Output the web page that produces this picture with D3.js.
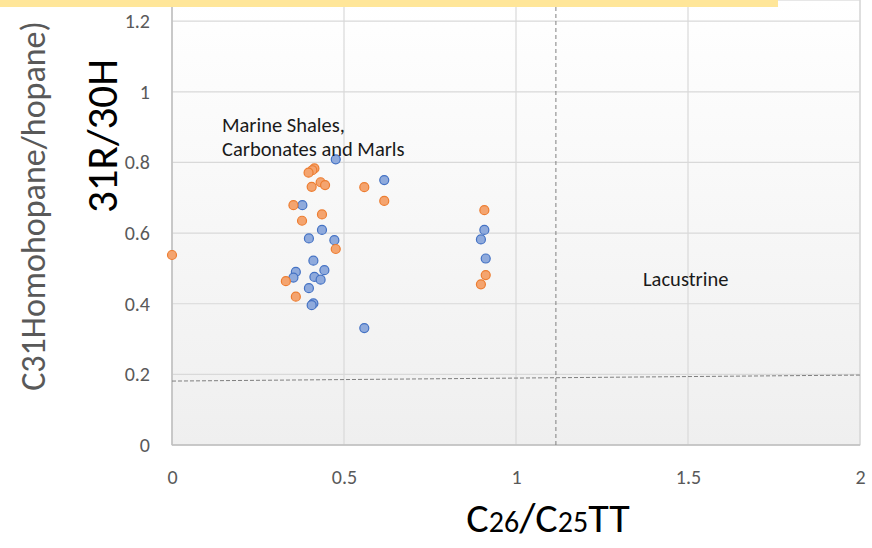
<!DOCTYPE html>
<html>
<head>
<meta charset="utf-8">
<script src="https://cdn.jsdelivr.net/npm/d3@7"></script>
<style>
  body { margin: 0; background: #ffffff; }
  svg { display: block; font-family: Carlito, Calibri, Lato, "Open Sans", sans-serif; }
</style>
</head>
<body>
<div id="chart"></div>
<script>

// data (x = C26/C25TT, y = 31R/30H)
var blueX = [0.476, 0.379, 0.436, 0.398, 0.472, 0.411, 0.443, 0.360, 0.353, 0.414,
             0.432, 0.398, 0.411, 0.406, 0.617, 0.559, 0.908, 0.898, 0.912];
var blueY = [0.809, 0.679, 0.609, 0.585, 0.580, 0.522, 0.495, 0.490, 0.474, 0.476,
             0.468, 0.444, 0.401, 0.396, 0.750, 0.331, 0.609, 0.582, 0.528];

var orangeX = [0.000, 0.414, 0.408, 0.397, 0.406, 0.432, 0.445, 0.353, 0.436, 0.378,
               0.476, 0.331, 0.360, 0.559, 0.617, 0.908, 0.912, 0.898];
var orangeY = [0.538, 0.783, 0.778, 0.771, 0.731, 0.744, 0.736, 0.679, 0.653, 0.635,
               0.555, 0.464, 0.420, 0.730, 0.691, 0.665, 0.481, 0.455];

var xTicks = [0, 0.5, 1, 1.5, 2];
var yTicks = [0, 0.2, 0.4, 0.6, 0.8, 1, 1.2];

// boundary lines
var vLineX = 1.116;
var hLineX = [0, 2];
var hLineY = [0.181, 0.198];

// chart properties
var width = 872, height = 548;
var plot = { left: 172, right: 860, top: 0, bottom: 445 };

var svg = d3.select("#chart").append("svg")
            .attr("width", width)
            .attr("height", height);

var xScale = d3.scaleLinear().domain([0, 2]).range([plot.left, plot.right]);
var yScale = d3.scaleLinear().domain([0, 1.26]).range([plot.bottom, plot.top]);

// background gradient
var grad = svg.append("defs").append("linearGradient")
              .attr("id", "bg")
              .attr("x1", 0).attr("y1", 0).attr("x2", 0).attr("y2", 1);
grad.append("stop").attr("offset", "0%").attr("stop-color", "#ffffff");
grad.append("stop").attr("offset", "100%").attr("stop-color", "#efefef");

svg.append("rect")
   .attr("x", plot.left)
   .attr("y", plot.top)
   .attr("width", plot.right - plot.left)
   .attr("height", plot.bottom - plot.top)
   .attr("fill", "url(#bg)")
   .attr("stroke", "#d0d0d0");

// grid lines
svg.append("g")
   .selectAll("line")
   .data(yTicks.slice(1))
   .enter().append("line")
   .attr("x1", plot.left).attr("x2", plot.right)
   .attr("y1", function(d) { return yScale(d); })
   .attr("y2", function(d) { return yScale(d); })
   .attr("stroke", "#d9d9d9")
   .attr("stroke-width", 1.2);

svg.append("g")
   .selectAll("line")
   .data(xTicks.slice(1))
   .enter().append("line")
   .attr("x1", function(d) { return xScale(d); })
   .attr("x2", function(d) { return xScale(d); })
   .attr("y1", plot.top).attr("y2", plot.bottom)
   .attr("stroke", "#d9d9d9")
   .attr("stroke-width", 1.2);

// axes (labels only, lines drawn separately)
var xAxis = svg.append("g")
               .attr("transform", "translate(0," + plot.bottom + ")")
               .call(d3.axisBottom(xScale).tickValues(xTicks).tickSize(0).tickPadding(25)
                       .tickFormat(d3.format("")));
var yAxis = svg.append("g")
               .attr("transform", "translate(" + plot.left + ",0)")
               .call(d3.axisLeft(yScale).tickValues(yTicks).tickSize(0).tickPadding(22)
                       .tickFormat(d3.format("")));

svg.selectAll(".domain").remove();
svg.selectAll(".tick text")
   .style("font-family", "Carlito, Calibri, Lato, sans-serif")
   .style("font-size", "20px")
   .attr("fill", "#595959");

svg.append("line")
   .attr("x1", plot.left).attr("x2", plot.left)
   .attr("y1", plot.top).attr("y2", plot.bottom)
   .attr("stroke", "#bfbfbf").attr("stroke-width", 1.5);
svg.append("line")
   .attr("x1", plot.left).attr("x2", plot.right)
   .attr("y1", plot.bottom).attr("y2", plot.bottom)
   .attr("stroke", "#bfbfbf").attr("stroke-width", 1.5);

// dashed boundaries
svg.append("line")
   .attr("x1", xScale(vLineX)).attr("x2", xScale(vLineX))
   .attr("y1", plot.top).attr("y2", plot.bottom)
   .attr("stroke", "#7f7f7f")
   .attr("stroke-width", 1)
   .attr("stroke-dasharray", "4,3");
svg.append("line")
   .attr("x1", xScale(hLineX[0])).attr("x2", xScale(hLineX[1]))
   .attr("y1", yScale(hLineY[0])).attr("y2", yScale(hLineY[1]))
   .attr("stroke", "#7f7f7f")
   .attr("stroke-width", 1)
   .attr("stroke-dasharray", "4,2");

// points
var blue = blueX.map(function(d, i) { return { x: d, y: blueY[i] }; });
var orange = orangeX.map(function(d, i) { return { x: d, y: orangeY[i] }; });

svg.append("g")
   .selectAll("circle")
   .data(blue)
   .enter().append("circle")
   .attr("cx", function(d) { return xScale(d.x); })
   .attr("cy", function(d) { return yScale(d.y); })
   .attr("r", 4.5)
   .attr("fill", "#8faadc")
   .attr("stroke", "#4472c4")
   .attr("stroke-width", 1.2);

svg.append("g")
   .selectAll("circle")
   .data(orange)
   .enter().append("circle")
   .attr("cx", function(d) { return xScale(d.x); })
   .attr("cy", function(d) { return yScale(d.y); })
   .attr("r", 4.5)
   .attr("fill", "#f4a46f")
   .attr("stroke", "#ed7d31")
   .attr("stroke-width", 1.2);

// annotations
svg.append("text")
   .attr("x", 222).attr("y", 132)
   .style("font-size", "20.5px")
   .attr("fill", "#1a1a1a")
   .text("Marine Shales,");
svg.append("text")
   .attr("x", 222).attr("y", 156)
   .style("font-size", "20.5px")
   .attr("fill", "#1a1a1a")
   .text("Carbonates and Marls");
svg.append("text")
   .attr("x", 643).attr("y", 286)
   .style("font-size", "20.5px")
   .attr("fill", "#1a1a1a")
   .text("Lacustrine");

// y axis titles
svg.append("text")
   .attr("transform", "translate(45,206) rotate(-90)")
   .attr("text-anchor", "middle")
   .style("font-size", "34px")
   .attr("fill", "#595959")
   .text("C31Homohopane/hopane)");

svg.append("text")
   .attr("transform", "translate(117,136) rotate(-90)")
   .attr("text-anchor", "middle")
   .style("font-size", "43px")
   .attr("fill", "#000000")
   .text("31R/30H");

// x axis title
var xt = svg.append("text")
            .attr("x", 548).attr("y", 532)
            .attr("text-anchor", "middle")
            .attr("fill", "#000000")
            .style("font-size", "42px");
xt.append("tspan").text("C");
xt.append("tspan").style("font-size", "30px").text("26");
xt.append("tspan").text("/C");
xt.append("tspan").style("font-size", "30px").text("25");
xt.append("tspan").text("TT");

// yellow band at the top
svg.append("rect")
   .attr("x", 0).attr("y", 0)
   .attr("width", 778).attr("height", 7)
   .attr("fill", "#ffe699");

</script>
</body>
</html>
